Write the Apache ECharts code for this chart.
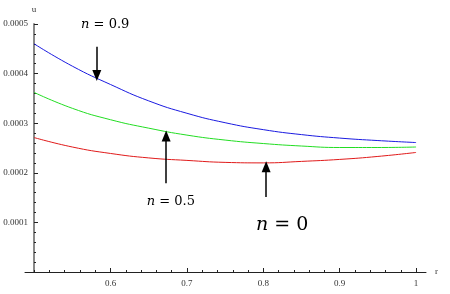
<!DOCTYPE html>
<html>
<head>
<meta charset="utf-8">
<script src="https://cdn.jsdelivr.net/npm/echarts@6/dist/echarts.min.js"></script>
<style>
  html, body { margin: 0; padding: 0; background: #fff; }
  #chart { width: 450px; height: 294px; }
</style>
</head>
<body>
<div id="chart"></div>
<script>
// radius r and velocity u for n = 0.9, 0.5, 0
const rValues = [0.5, 0.55, 0.6, 0.65, 0.7, 0.75, 0.8, 0.85, 0.9, 0.95, 1.0];
const uN09 = [0.000460, 0.000415, 0.000378, 0.000345, 0.000320, 0.000301, 0.000287, 0.000277, 0.000270, 0.000265, 0.000261];
const uN05 = [0.000362, 0.000330, 0.000307, 0.000290, 0.000276, 0.000266, 0.000259, 0.000254, 0.000251, 0.000251, 0.000252];
const uN0 = [0.000271, 0.000252, 0.000239, 0.000230, 0.000225, 0.000221, 0.000220, 0.000223, 0.000227, 0.000233, 0.000241];

const xTickLabels = [0.6, 0.7, 0.8, 0.9, 1];
const xMinorTicks = [0.5, 0.52, 0.54, 0.56, 0.58, 0.6, 0.62, 0.64, 0.66, 0.68, 0.7, 0.72, 0.74, 0.76, 0.78,
  0.8, 0.82, 0.84, 0.86, 0.88, 0.9, 0.92, 0.94, 0.96, 0.98, 1];

// annotations: label, label position [r, u], arrow start, arrow end (head centre)
const noteLabels = ['0.9', '0.5', '0'];
const noteTextPos = [[0.593, 0.000499], [0.679, 0.000141], [0.8246, 0.0000948]];
const noteArrowFrom = [[0.582, 0.000454], [0.6728, 0.000179], [0.8037, 0.000151]];
const noteArrowTo = [[0.582, 0.000396], [0.6728, 0.000274], [0.8037, 0.000212]];

const chart = echarts.init(document.getElementById('chart'));

function pairs(ys) {
  return rValues.map((r, i) => [r, ys[i]]);
}

const serif = '"Liberation Serif", "Times New Roman", serif';
const mathFont = '"DejaVu Serif", serif';

const arrows = noteLabels.map((lab, i) => [
  { coord: noteArrowFrom[i], symbol: 'none' },
  { coord: noteArrowTo[i], symbol: 'triangle' }
]);

const notes = noteLabels.map((lab, i) => {
  const size = i === 2 ? 19 : 13;
  return {
    coord: noteTextPos[i],
    value: lab,
    label: {
      formatter: '{i|n}{t| = ' + lab + '}',
      rich: {
        i: { fontStyle: 'italic', fontSize: size, fontFamily: mathFont, color: '#000' },
        t: { fontSize: size, fontFamily: mathFont, color: '#000' }
      }
    }
  };
});

const option = {
  animation: false,
  grid: { left: 25, right: 24, top: 24, bottom: 22, containLabel: false },
  xAxis: [
    {
      type: 'value',
      min: 0.488,
      max: 1.013,
      name: 'r',
      nameLocation: 'end',
      nameGap: 9,
      nameTextStyle: { fontFamily: serif, fontSize: 9, color: '#333', verticalAlign: 'middle' },
      axisLine: { show: true, lineStyle: { color: '#222', width: 1 } },
      axisTick: { show: true, inside: true, length: 2, customValues: xMinorTicks, lineStyle: { color: '#222' } },
      axisLabel: { show: true, customValues: xTickLabels, fontFamily: serif, fontSize: 9, color: '#333', margin: 7 },
      splitLine: { show: false }
    },
    {
      type: 'value',
      min: 0.488,
      max: 1.013,
      position: 'bottom',
      axisLine: { show: false },
      axisTick: { show: true, inside: true, length: 4, customValues: xTickLabels, lineStyle: { color: '#222' } },
      axisLabel: { show: false },
      splitLine: { show: false }
    }
  ],
  yAxis: {
    type: 'value',
    min: 0,
    max: 0.0005,
    interval: 0.0001,
    offset: -9,
    name: 'u',
    nameLocation: 'end',
    nameGap: 10,
    nameTextStyle: { fontFamily: serif, fontSize: 9, color: '#333' },
    axisLine: { show: true, lineStyle: { color: '#888', width: 2 } },
    axisTick: { show: true, inside: true, length: 4, lineStyle: { color: '#222' } },
    minorTick: { show: true, splitNumber: 5, length: 2, lineStyle: { color: '#222' } },
    axisLabel: {
      fontFamily: serif, fontSize: 9, color: '#333', margin: 6, showMinLabel: false,
      formatter: v => v.toFixed(4)
    },
    splitLine: { show: false }
  },
  series: [
    {
      name: 'n = 0.9', type: 'line', data: pairs(uN09), smooth: true, showSymbol: false,
      lineStyle: { color: '#1a1ae0', width: 1 }, itemStyle: { color: '#1a1ae0' },
      markLine: {
        silent: true, symbolSize: [9, 11], label: { show: false },
        lineStyle: { color: '#000', width: 1.5, type: 'solid' },
        itemStyle: { color: '#000' },
        data: arrows
      },
      markPoint: {
        symbol: 'circle', symbolSize: 0, silent: true,
        label: { show: true, position: 'inside', color: '#000' },
        data: notes
      }
    },
    {
      name: 'n = 0.5', type: 'line', data: pairs(uN05), smooth: true, showSymbol: false,
      lineStyle: { color: '#22dd22', width: 1 }, itemStyle: { color: '#22dd22' }
    },
    {
      name: 'n = 0', type: 'line', data: pairs(uN0), smooth: true, showSymbol: false,
      lineStyle: { color: '#e01a1a', width: 1 }, itemStyle: { color: '#e01a1a' }
    }
  ]
};

chart.setOption(option);
</script>
</body>
</html>
